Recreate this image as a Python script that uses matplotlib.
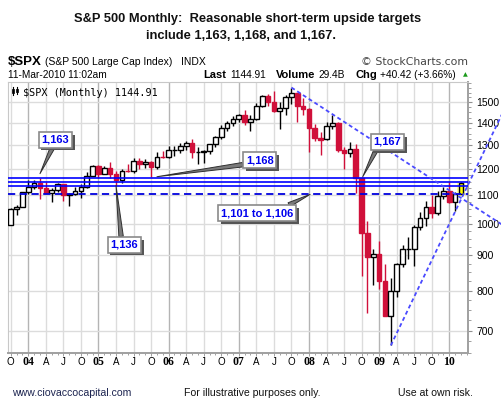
import numpy as np
import matplotlib
matplotlib.use("Agg")
import matplotlib.pyplot as plt
from matplotlib.patches import Rectangle
from matplotlib.ticker import FixedLocator, NullFormatter, FuncFormatter
import matplotlib.patheffects as pe

# monthly S&P 500 candles, Oct 2003 .. Mar 2010 (index 0 = Jan 2004)
start_idx = -3
opens = [995.97, 1050.71, 1058.20,
         1111.92, 1131.13, 1144.94, 1126.21, 1107.30, 1120.68, 1140.84, 1101.72, 1104.24, 1114.58, 1130.20, 1173.82,
         1211.92, 1181.27, 1203.60, 1180.59, 1156.85, 1191.50, 1191.33, 1234.18, 1220.33, 1228.81, 1207.01, 1249.48,
         1248.29, 1280.08, 1280.66, 1294.83, 1310.61, 1270.09, 1270.20, 1276.66, 1303.82, 1335.85, 1377.94, 1400.63,
         1418.30, 1438.24, 1406.82, 1420.86, 1482.37, 1530.62, 1503.35, 1455.27, 1473.99, 1526.75, 1545.79, 1481.14,
         1468.36, 1378.55, 1330.63, 1326.41, 1385.59, 1400.38, 1280.00, 1267.38, 1282.83, 1166.36, 968.75, 896.24,
         903.25, 825.88, 735.09, 797.87, 872.81, 919.14, 919.32, 987.48, 1020.62, 1057.08, 1036.19, 1095.63,
         1115.10, 1073.87, 1105.36]
highs = [1053.79, 1063.65, 1112.56,
         1155.38, 1158.98, 1163.23, 1150.57, 1127.74, 1146.34, 1140.84, 1108.96, 1131.54, 1142.05, 1188.46, 1217.33,
         1217.80, 1212.44, 1229.11, 1191.88, 1199.56, 1219.59, 1245.15, 1245.86, 1243.13, 1233.34, 1270.64, 1275.80,
         1294.90, 1297.57, 1310.88, 1318.16, 1326.70, 1290.68, 1280.42, 1306.74, 1340.28, 1389.45, 1407.89, 1431.81,
         1441.61, 1461.57, 1438.89, 1498.02, 1535.56, 1540.56, 1555.90, 1503.89, 1538.74, 1576.09, 1545.79, 1523.57,
         1471.77, 1396.02, 1359.68, 1404.57, 1440.24, 1404.05, 1292.17, 1313.15, 1303.04, 1167.03, 1007.51, 918.85,
         943.85, 875.01, 832.98, 875.63, 930.17, 956.23, 996.68, 1039.47, 1080.15, 1101.36, 1113.69, 1130.38,
         1150.45, 1112.42, 1150.0]
lows = [995.97, 1031.20, 1058.20,
        1105.08, 1124.44, 1087.16, 1107.23, 1076.32, 1113.32, 1078.78, 1060.72, 1101.29, 1090.19, 1127.60, 1173.76,
        1163.75, 1180.95, 1163.69, 1136.15, 1146.18, 1188.30, 1183.55, 1201.07, 1205.35, 1168.20, 1201.07, 1246.59,
        1245.74, 1253.61, 1268.42, 1280.74, 1245.34, 1219.29, 1224.54, 1261.30, 1290.93, 1327.10, 1360.98, 1385.93,
        1403.97, 1389.42, 1363.98, 1416.37, 1476.70, 1484.18, 1454.25, 1370.60, 1439.29, 1489.56, 1406.10, 1435.65,
        1270.05, 1316.75, 1256.98, 1324.35, 1373.07, 1272.00, 1200.44, 1248.45, 1106.42, 839.80, 741.02, 815.69,
        804.22, 734.52, 666.79, 783.94, 866.10, 888.86, 869.32, 978.51, 991.97, 1020.18, 1029.38, 1085.89,
        1071.59, 1044.50, 1105.36]
closes = [1050.71, 1058.20, 1111.92,
          1131.13, 1144.94, 1126.21, 1107.30, 1120.68, 1140.84, 1101.72, 1104.24, 1114.58, 1130.20, 1173.82, 1211.92,
          1181.27, 1203.60, 1180.59, 1156.85, 1191.50, 1191.33, 1234.18, 1220.33, 1228.81, 1207.01, 1249.48, 1248.29,
          1280.08, 1280.66, 1294.83, 1310.61, 1270.09, 1270.20, 1276.66, 1303.82, 1335.85, 1377.94, 1400.63, 1418.30,
          1438.24, 1406.82, 1420.86, 1482.37, 1530.62, 1503.35, 1455.27, 1473.99, 1526.75, 1549.38, 1481.14, 1468.36,
          1378.55, 1330.63, 1322.70, 1385.59, 1400.38, 1280.00, 1267.38, 1282.83, 1166.36, 968.75, 896.24, 903.25,
          825.88, 735.09, 797.87, 872.81, 919.14, 919.32, 987.48, 1020.62, 1057.08, 1036.19, 1095.63, 1115.10,
          1073.87, 1104.49, 1144.91]

# target lines
solid_levels = [1165, 1150, 1133]
dashed_level = 1103
# trend lines (month index, price)
trend_down_x = [45, 81.1]
trend_down_y = [1576, 996]
trend_up_x = [62, 81.1]
trend_up_y = [666, 1447]

# callouts: label, target (month, price), box centre (month, price), relpos
callouts = [
    ("1,163", (2.0, 1182), (4.6, 1323), (0.45, 0.0)),
    ("1,136", (15.0, 1136), (16.4, 932), (0.4, 1.0)),
    ("1,168", (22.0, 1170), (39.6, 1237), (0.05, 0.1)),
    ("1,167", (57.2, 1170), (61.4, 1314), (0.15, 0.0)),
    ("1,101 to 1,106", (48.2, 1103), (39.1, 1036), (0.85, 1.0)),
]

year_labels = ["04", "05", "06", "07", "08", "09", "10"]
month_letters = {0: "J", 3: "A", 6: "J", 9: "O"}
yticks = [700, 800, 900, 1000, 1100, 1200, 1300, 1400, 1500]

W, H = 501, 416
fig = plt.figure(figsize=(W / 100, H / 100), dpi=100)
fig.patch.set_facecolor("white")


def px(x, y):
    return x / W, 1 - y / H


ax = fig.add_axes([8.3 / W, 1 - 352.7 / H, 460 / W, 271 / H])
ax.set_yscale("log")
ax.set_xlim(-3.42, 75.25)
ax.set_ylim(650, 1607)

# grid
quarters = list(range(-3, 75, 3))
for q in quarters:
    col = "#b4b4b4" if q % 12 == 0 else "#dcdcdc"
    ax.axvline(q, color=col, lw=1.0, zorder=0)
for yv in yticks:
    ax.axhline(yv, color="#dcdcdc", lw=1.0, zorder=0)

# candles
red = "#d0103a"
w = 0.8
for k in range(len(closes)):
    x = start_idx + k
    o, h, l, c = opens[k], highs[k], lows[k], closes[k]
    last = k == len(closes) - 1
    down = c < o
    col = red if down else "black"
    ax.vlines(x, l, h, color=col, lw=1.0, zorder=3)
    if last:
        ax.add_patch(Rectangle((x - w / 2 - 0.3, min(o, c) * 0.993), w + 0.6, abs(c - o) * 1.2,
                               fc="#ffff99", ec="none", zorder=2.5))
        fc, ec = "#ffff00", "black"
    elif down:
        fc, ec = red, red
    else:
        fc, ec = "white", "black"
    ax.add_patch(Rectangle((x - w / 2, min(o, c)), w, max(abs(c - o), 0.5),
                           fc=fc, ec=ec, lw=1.0, zorder=4))

# horizontal levels
for lv in solid_levels:
    ax.axhline(lv, color="#0000ff", lw=1.2, zorder=5)
ax.axhline(dashed_level, color="#0000dd", lw=1.3, ls=(0, (4, 2.5)), zorder=5)

# trend lines (run past the frame like the original)
for tx, ty in [(trend_down_x, trend_down_y), (trend_up_x, trend_up_y)]:
    ax.plot(tx, ty, color="#4a4aff", lw=1.3, ls=(0, (2.2, 1.6)), clip_on=False, zorder=6)

# callouts
for label, xy, xyt, rp in callouts:
    t = ax.annotate(label, xy=xy, xytext=xyt, textcoords="data",
                    ha="center", va="center", fontsize=8, fontweight="bold",
                    color="#0000ee", family="Liberation Sans", zorder=10,
                    annotation_clip=False,
                    bbox=dict(boxstyle="square,pad=0.25", fc="white", ec="#8a8a8a", lw=1.2),
                    arrowprops=dict(arrowstyle="wedge,tail_width=0.4,shrink_factor=0.5",
                                    fc="#7a7a7a", ec="#303030", lw=0.7, relpos=rp,
                                    shrinkA=0, shrinkB=0))
    t.get_bbox_patch().set_path_effects(
        [pe.withSimplePatchShadow(offset=(2, -2), shadow_rgbFace="#555555", alpha=1.0)])

# axes styling
for s in ["left", "top"]:
    ax.spines[s].set_color("#c8c8c8")
for s in ["right", "bottom"]:
    ax.spines[s].set_color("#a0a0a0")
    ax.spines[s].set_linewidth(1.4)

ax.yaxis.tick_right()
ax.yaxis.set_major_locator(FixedLocator(yticks))
ax.yaxis.set_major_formatter(FuncFormatter(lambda v, p: f"{int(v)}"))
ax.yaxis.set_minor_locator(FixedLocator(list(range(650, 1625, 25))))
ax.yaxis.set_minor_formatter(NullFormatter())
ax.tick_params(axis="y", which="major", length=3, width=0.8, color="#909090", pad=3,
               labelsize=7.5, labelfontfamily="Liberation Sans")
ax.tick_params(axis="y", which="minor", length=2, width=0.6, color="#909090")

ax.set_xticks(quarters)
ax.set_xticklabels([])
ax.xaxis.set_minor_locator(FixedLocator(list(range(-3, 76))))
ax.tick_params(axis="x", which="major", length=2.5, width=0.6, color="#909090")
ax.tick_params(axis="x", which="minor", length=1.5, width=0.6, color="#909090")

xfor = ax.get_xaxis_transform()
for q in quarters:
    m = q % 12
    if m == 0:
        ax.text(q, -0.036, year_labels[q // 12], transform=xfor, ha="center", va="center",
                fontsize=8.5, fontweight="bold", family="Liberation Serif")
    else:
        ax.text(q, -0.036, month_letters[m], transform=xfor, ha="center", va="center",
                fontsize=7, family="Liberation Sans")

# legend inside the plot
ax.text(0.033, 0.978, "$SPX (Monthly) 1144.91", transform=ax.transAxes, ha="left", va="top",
        fontsize=7.3, family="DejaVu Sans Mono")
ax.plot([0.010, 0.010], [0.952, 0.982], transform=ax.transAxes, color="black", lw=0.8)
ax.add_patch(Rectangle((0.008, 0.958), 0.005, 0.016, transform=ax.transAxes, fc="black", ec="black", lw=0.5))
ax.plot([0.019, 0.019], [0.955, 0.979], transform=ax.transAxes, color="black", lw=0.8)
ax.add_patch(Rectangle((0.017, 0.961), 0.005, 0.012, transform=ax.transAxes, fc="white", ec="black", lw=0.6))

# title
fig.text(*px(248, 19), "S&P 500 Monthly:  Reasonable short-term upside targets", ha="center", va="center",
         fontsize=9.3, fontweight="bold", family="Liberation Sans", color="#111111")
fig.text(*px(241, 36), "include 1,163, 1,168, and 1,167.", ha="center", va="center",
         fontsize=9.3, fontweight="bold", family="Liberation Sans", color="#111111")

# stockcharts header
fig.text(*px(8, 62), "$SPX", ha="left", va="center", fontsize=9.5, fontweight="bold", family="Liberation Sans")
fig.text(*px(45, 62), "(S&P 500 Large Cap Index)", ha="left", va="center", fontsize=7.5, family="Liberation Sans")
fig.text(*px(181, 62), "INDX", ha="left", va="center", fontsize=7.5, family="Liberation Sans")
fig.text(*px(468, 62), "\u00a9 StockCharts.com", ha="right", va="center", fontsize=7.8,
         family="DejaVu Sans", color="#444444")
fig.text(*px(8, 75.5), "11-Mar-2010 11:02am", ha="left", va="center", fontsize=7.3, family="Liberation Sans")
head = [(203, "Last", True), (230, "1144.91", False), (276, "Volume", True), (318, "29.4B", False),
        (355, "Chg", True), (380, "+40.42 (+3.66%)", False)]
for hx, s, b in head:
    fig.text(*px(hx, 75.5), s, ha="left", va="center", fontsize=8 if b else 7.3,
             fontweight="bold" if b else "normal", family="Liberation Sans")
fig.text(*px(463, 75), "\u25b2", ha="left", va="center", fontsize=4.5, color="#1a9a1a")

# footer
fig.text(*px(12, 393), "www.ciovaccocapital.com", ha="left", va="center", fontsize=7.6,
         family="Liberation Sans", color="#1c2450")
fig.text(*px(184, 393), "For illustrative purposes only.", ha="left", va="center", fontsize=7.6,
         family="Liberation Sans", color="#111111")
fig.text(*px(398, 393), "Use at own risk.", ha="left", va="center", fontsize=7.6,
         family="Liberation Sans", color="#111111")

fig.savefig("out.png", dpi=100)
